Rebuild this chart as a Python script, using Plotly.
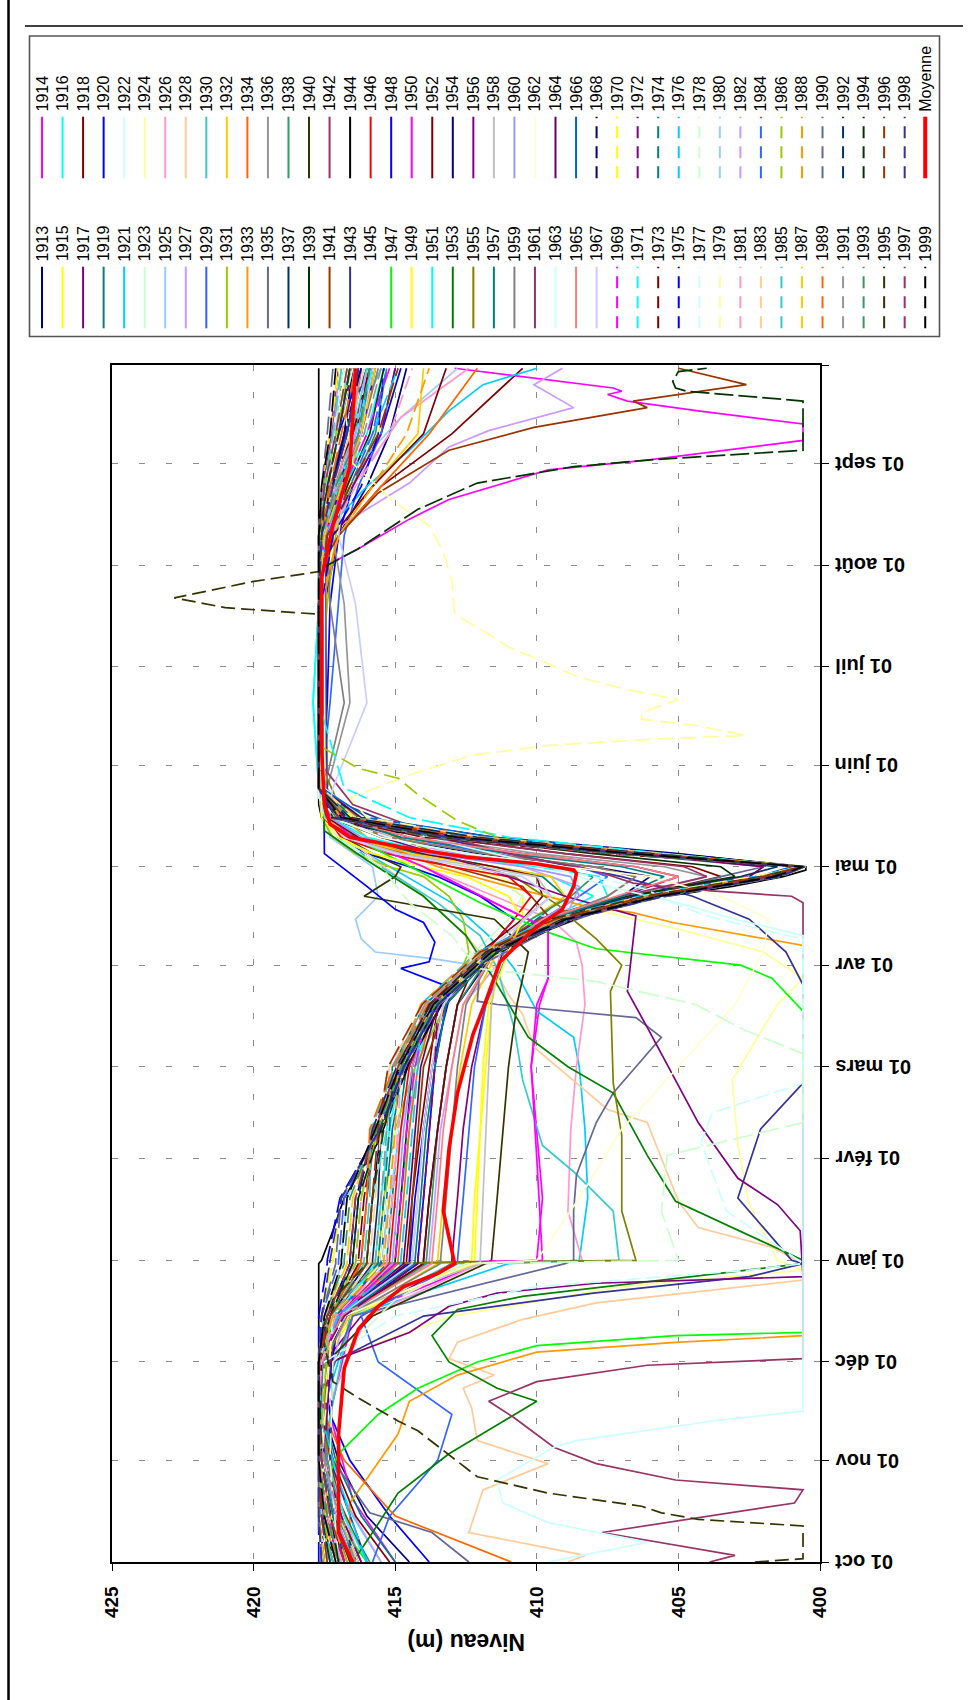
import plotly.graph_objects as go

# ---------------- DATA ----------------
# common sample dates (Oct -> Sep) for the years stored on a grid
GRID = ["10-01", "10-15", "11-01", "11-15", "12-01", "12-15", "12-31", "01-01", "01-20",
        "02-10", "03-01", "03-20", "04-05", "04-15", "04-22", "04-28", "05-01", "05-05",
        "05-10", "05-16", "05-25", "06-20", "07-20", "08-10", "08-25", "09-10", "09-30"]

v1913 = [414.5, 416.0, 417.0, 417.5, 417.6, 416.8, 414.0, 414.0, 413.8, 413.5, 413.2, 412.8, 411.5, 409.3, 407.0, 406.0, 408.0, 412.0, 415.5, 417.3, 417.6, 417.6, 417.5, 417.0, 416.0, 415.2, 414.6]
v1915 = [416.0, 416.8, 417.4, 417.6, 417.5, 416.5, 412.5, 412.3, 412.2, 412.0, 411.8, 411.6, 411.2, 410.5, 410.5, 411.5, 412.5, 414.5, 416.5, 417.4, 417.6, 417.6, 417.6, 417.2, 416.6, 415.6, 414.8]
v1916 = [415.5, 416.5, 417.3, 417.6, 417.6, 417.0, 415.0, 415.0, 414.8, 414.5, 414.3, 413.6, 411.7, 409.6, 408.0, 409.5, 411.5, 414.0, 416.2, 417.3, 417.7, 417.9, 417.7, 417.4, 416.8, 416.0, 415.4]
v1917 = [416.5, 417.2, 417.6, 417.7, 417.5, 416.2, 413.0, 413.0, 412.8, 412.6, 412.3, 411.8, 411.2, 410.0, 407.0, 405.0, 406.5, 410.5, 414.5, 417.0, 417.6, 417.6, 417.6, 417.3, 416.8, 416.3, 415.9]
v1918 = [417.0, 417.4, 417.6, 417.7, 417.6, 416.9, 414.6, 414.6, 414.4, 414.1, 413.8, 413.5, 411.7, 409.7, 406.5, 403.5, 404.5, 409.0, 413.5, 416.8, 417.6, 417.6, 417.6, 417.0, 415.5, 413.0, 410.5]
v1919 = [415.0, 416.2, 417.1, 417.5, 417.6, 417.0, 415.3, 415.3, 415.1, 414.9, 414.6, 413.7, 411.6, 410.0, 409.0, 409.8, 411.5, 414.2, 416.4, 417.4, 417.7, 417.7, 417.7, 417.4, 416.8, 416.2, 415.9]
v1920 = [413.8, 415.2, 416.6, 417.3, 417.5, 416.8, 414.2, 414.2, 414.0, 413.8, 413.6, 413.2, 411.8, 410.8, 412.0, 413.5, 414.5, 416.0, 417.0, 417.5, 417.6, 417.4, 417.3, 417.0, 416.5, 415.5, 414.8]
v1922 = [416.2, 416.9, 417.4, 417.6, 417.6, 416.9, 415.4, 415.4, 415.2, 414.9, 414.7, 413.8, 411.9, 410.5, 409.5, 410.5, 412.5, 415.0, 416.8, 417.5, 417.7, 417.7, 417.7, 417.5, 417.1, 416.6, 416.3]
v1923 = [417.3, 417.6, 417.7, 417.7, 417.6, 417.0, 414.8, 414.8, 414.6, 414.3, 414.0, 413.5, 412.2, 411.0, 410.5, 411.5, 413.5, 415.8, 417.2, 417.6, 417.7, 417.7, 417.7, 417.6, 417.3, 417.0, 416.7]
v1929 = [415.8, 415.2, 413.5, 413.0, 415.6, 416.2, 412.8, 412.8, 412.6, 412.4, 412.2, 411.8, 411.0, 409.8, 408.5, 407.5, 408.5, 411.5, 414.8, 417.1, 417.6, 417.3, 417.0, 416.8, 416.3, 415.5, 415.0]
v1931 = [417.4, 417.6, 417.7, 417.7, 417.6, 417.1, 415.6, 415.6, 415.4, 415.0, 414.3, 413.2, 412.4, 412.6, 413.1, 414.0, 415.2, 416.4, 417.2, 417.6, 417.7, 417.7, 417.4, 417.1, 416.7, 416.2, 416.0]
v1932 = [416.8, 417.3, 417.6, 417.7, 417.6, 416.6, 413.5, 413.5, 413.3, 413.0, 412.7, 412.3, 411.4, 410.2, 409.0, 409.5, 411.5, 414.5, 416.6, 417.4, 417.7, 417.7, 417.7, 417.0, 415.8, 414.2, 414.0]
v1934 = [410.9, 415.0, 416.8, 417.5, 417.6, 417.0, 414.9, 414.9, 414.7, 414.5, 414.2, 413.6, 411.6, 409.6, 407.5, 406.5, 408.0, 411.8, 415.2, 417.2, 417.7, 417.7, 417.6, 417.0, 415.5, 413.8, 412.1]
v1936 = [417.1, 417.5, 417.7, 417.7, 417.6, 416.9, 414.4, 414.4, 414.2, 414.0, 413.7, 413.3, 411.6, 409.6, 406.8, 404.0, 405.5, 410.0, 414.0, 416.8, 417.4, 416.6, 416.8, 417.2, 417.0, 416.5, 416.2]
v1937 = [416.3, 417.0, 417.5, 417.7, 417.7, 417.2, 415.8, 415.8, 415.6, 415.5, 414.7, 413.6, 411.8, 409.6, 406.6, 402.8, 401.5, 406.0, 412.0, 416.3, 417.6, 417.7, 417.7, 417.5, 417.0, 416.4, 415.9]
v1938 = [415.9, 416.8, 417.4, 417.6, 417.6, 416.8, 413.9, 413.9, 413.7, 413.5, 413.2, 412.8, 411.6, 410.2, 408.8, 408.0, 409.5, 412.5, 415.5, 417.2, 417.6, 417.7, 417.7, 417.3, 416.5, 415.7, 415.3]
v1939 = [417.2, 417.6, 417.7, 417.7, 417.6, 417.1, 415.0, 415.0, 414.8, 414.6, 414.4, 413.8, 411.9, 409.8, 406.8, 403.0, 403.5, 408.0, 413.0, 416.7, 417.7, 417.7, 417.7, 417.4, 416.7, 415.9, 415.4]
v1940 = [416.6, 417.2, 417.6, 417.7, 417.4, 415.8, 411.8, 411.6, 411.4, 411.2, 411.0, 410.7, 410.3, 411.5, 416.1, 415.0, 414.8, 415.8, 416.8, 417.4, 417.7, 417.7, 417.7, 417.5, 417.0, 416.2, 415.8]
v1942 = [417.0, 417.4, 417.7, 417.7, 417.7, 417.2, 416.2, 416.2, 416.0, 415.7, 414.9, 413.8, 411.9, 409.9, 407.0, 404.0, 404.8, 409.0, 413.5, 416.9, 417.7, 417.7, 417.7, 417.6, 417.3, 416.8, 416.4]
v1946 = [416.9, 417.4, 417.7, 417.7, 417.6, 417.0, 415.2, 415.2, 415.0, 414.8, 414.5, 413.6, 411.8, 410.8, 410.2, 411.0, 413.0, 415.3, 416.9, 417.5, 417.7, 417.7, 417.7, 417.6, 417.2, 416.7, 416.3]
v1949 = [417.3, 417.6, 417.7, 417.7, 417.6, 416.8, 412.2, 412.2, 412.1, 412.0, 411.9, 411.7, 411.0, 410.5, 411.0, 412.5, 414.0, 415.8, 417.0, 417.6, 417.7, 417.7, 417.7, 417.6, 417.4, 417.0, 416.8]
v1951 = [416.0, 416.8, 417.4, 417.6, 417.6, 417.1, 415.7, 415.7, 415.5, 415.2, 414.8, 413.7, 411.7, 409.5, 407.5, 407.8, 410.0, 413.5, 416.0, 417.3, 417.7, 417.9, 417.7, 417.6, 417.2, 416.5, 416.0]
v1952 = [415.2, 416.4, 417.2, 417.6, 417.6, 416.9, 414.0, 414.0, 413.8, 413.5, 413.2, 412.8, 412.0, 410.5, 409.8, 410.0, 411.5, 414.0, 416.3, 417.4, 417.7, 417.7, 417.7, 417.2, 415.8, 414.0, 413.2]
v1954 = [417.4, 417.6, 417.7, 417.7, 417.7, 417.3, 416.0, 416.0, 415.8, 415.5, 414.6, 413.4, 411.4, 409.0, 405.8, 401.7, 400.8, 405.0, 411.5, 416.2, 417.6, 417.7, 417.7, 417.6, 417.2, 416.8, 416.5]
v1957 = [416.7, 417.2, 417.6, 417.7, 417.6, 416.9, 414.3, 414.3, 414.1, 413.9, 413.6, 413.2, 411.5, 409.6, 407.0, 405.5, 407.0, 411.0, 414.8, 417.0, 417.6, 417.7, 417.7, 417.5, 417.1, 416.6, 416.2]
v1958 = [417.5, 417.7, 417.7, 417.7, 417.6, 417.2, 412.0, 412.0, 411.9, 411.8, 411.7, 411.6, 411.3, 410.5, 409.5, 410.0, 412.0, 414.8, 416.8, 417.5, 417.7, 417.7, 417.7, 417.6, 417.4, 417.1, 416.9]
v1959 = [416.2, 416.9, 417.4, 417.6, 417.5, 416.7, 413.4, 413.4, 413.2, 413.0, 412.8, 412.5, 411.5, 409.5, 407.5, 406.5, 408.0, 411.8, 415.3, 417.2, 417.5, 416.8, 417.3, 417.4, 417.0, 416.2, 415.6]
v1960 = [416.5, 417.1, 417.5, 417.7, 417.6, 417.0, 415.1, 415.1, 414.9, 414.7, 414.4, 413.7, 411.6, 409.8, 408.5, 408.8, 410.5, 413.8, 416.2, 417.3, 417.7, 417.7, 417.7, 417.4, 416.9, 416.3, 415.9]
v1962 = [417.4, 417.6, 417.7, 417.7, 417.6, 416.8, 412.3, 410.0, 408.5, 407.0, 405.0, 403.0, 402.0, 401.8, 403.5, 406.0, 409.0, 412.5, 415.5, 417.2, 417.7, 417.7, 417.7, 417.6, 417.3, 417.0, 416.8]
v1964 = [416.8, 417.3, 417.6, 417.7, 417.6, 417.0, 414.7, 414.7, 414.5, 414.3, 414.1, 413.5, 411.7, 409.5, 406.4, 402.5, 402.0, 406.5, 412.0, 416.2, 417.6, 417.7, 417.7, 417.5, 416.9, 416.2, 415.7]
v1965 = [417.1, 417.5, 417.7, 417.7, 417.6, 416.9, 413.7, 413.7, 413.5, 413.3, 413.0, 412.6, 411.5, 409.8, 407.2, 405.0, 406.5, 410.5, 414.5, 417.0, 417.7, 417.7, 417.7, 417.5, 417.1, 416.6, 416.2]
v1966 = [416.4, 417.0, 417.5, 417.7, 417.6, 417.1, 415.5, 415.5, 415.3, 415.1, 414.7, 413.5, 411.4, 409.2, 405.9, 402.2, 401.0, 405.5, 411.5, 416.0, 417.6, 417.7, 417.7, 417.6, 417.2, 416.7, 416.3]
v1967 = [416.9, 417.3, 417.6, 417.7, 417.6, 417.0, 414.4, 414.4, 414.2, 414.0, 413.7, 413.3, 411.8, 410.4, 409.5, 410.5, 412.5, 415.0, 416.8, 417.4, 417.2, 416.0, 416.4, 417.0, 416.8, 416.2, 415.8]
v1968 = [417.5, 417.7, 417.7, 417.7, 417.7, 417.4, 416.6, 416.6, 416.4, 415.6, 414.8, 413.6, 411.5, 408.9, 405.7, 401.6, 400.6, 406.5, 412.8, 417.0, 417.7, 417.7, 417.7, 417.6, 417.2, 416.8, 416.2]
v1969 = [416.8, 417.4, 417.7, 417.7, 417.6, 417.0, 415.0, 415.0, 414.8, 414.6, 414.3, 413.8, 411.8, 409.2, 406.0, 401.9, 400.6, 407.0, 413.5, 417.2, 417.7, 417.7, 417.7, 417.5, 416.8, 416.0, 415.2]
v1970 = [417.6, 417.7, 417.7, 417.7, 417.7, 417.6, 417.2, 417.2, 416.9, 415.5, 414.65, 413.45, 411.4, 408.75, 405.5, 401.4, 400.5, 405.5, 412.0, 416.5, 417.6, 417.7, 417.7, 417.7, 417.6, 417.3, 417.0]
v1971 = [417.0, 417.5, 417.7, 417.7, 417.6, 417.2, 416.0, 416.0, 415.8, 415.3, 415.0, 414.0, 412.0, 409.4, 406.3, 402.2, 400.7, 405.5, 411.0, 414.5, 416.8, 417.7, 417.7, 417.6, 417.0, 416.4, 415.8]
v1972 = [416.2, 416.9, 417.5, 417.7, 417.7, 416.8, 414.2, 414.2, 414.0, 413.8, 413.6, 413.5, 411.8, 409.1, 405.9, 401.8, 400.6, 406.0, 412.5, 416.8, 417.7, 417.7, 417.7, 417.4, 416.5, 415.5, 415.0]
v1973 = [417.3, 417.6, 417.7, 417.7, 417.6, 417.3, 416.3, 416.3, 416.1, 415.7, 414.85, 413.65, 411.6, 409.0, 405.8, 401.7, 400.6, 407.5, 414.0, 417.3, 417.7, 417.7, 417.7, 417.6, 417.3, 416.5, 415.9]
v1974 = [416.5, 417.2, 417.6, 417.7, 417.7, 417.5, 415.6, 415.6, 415.4, 415.2, 415.1, 413.95, 411.9, 409.3, 406.1, 402.0, 400.7, 406.0, 412.0, 416.5, 417.6, 417.7, 417.7, 417.7, 417.5, 417.0, 416.6]
v1975 = [417.7, 417.7, 417.7, 417.7, 417.7, 417.7, 417.4, 417.4, 416.95, 415.55, 414.7, 413.5, 411.45, 408.8, 405.6, 401.5, 400.55, 406.8, 413.2, 417.1, 417.7, 417.7, 417.6, 417.2, 416.2, 415.6, 415.4]
v1976 = [416.0, 416.6, 417.2, 417.6, 417.7, 417.0, 414.8, 414.8, 414.6, 414.4, 414.2, 414.1, 412.1, 409.5, 406.4, 402.3, 400.7, 405.8, 412.2, 416.6, 417.7, 417.7, 417.7, 417.5, 416.8, 415.8, 414.9]
v1980 = [417.4, 417.6, 417.7, 417.7, 417.7, 417.4, 416.9, 416.9, 416.7, 415.65, 414.8, 413.6, 411.55, 408.9, 405.7, 401.6, 400.6, 406.2, 412.6, 416.9, 417.7, 417.7, 417.7, 417.7, 417.4, 417.0, 416.7]
v1981 = [416.9, 417.4, 417.7, 417.7, 417.6, 417.1, 415.3, 415.3, 415.1, 414.9, 414.8, 413.9, 411.85, 409.2, 406.0, 401.9, 400.65, 407.2, 413.6, 417.2, 417.7, 417.7, 417.7, 417.3, 416.4, 415.2, 414.4]
v1982 = [417.1, 417.5, 417.7, 417.7, 417.7, 417.5, 416.4, 416.4, 416.2, 415.75, 414.9, 413.7, 411.65, 409.0, 405.8, 401.7, 400.6, 406.4, 412.9, 416.9, 417.7, 417.7, 417.7, 417.6, 417.1, 416.4, 416.0]
v1983 = [416.3, 417.0, 417.5, 417.7, 417.7, 417.2, 415.9, 415.9, 415.7, 415.5, 415.2, 414.0, 411.95, 409.3, 406.1, 402.0, 400.7, 405.7, 411.9, 416.4, 417.6, 417.7, 417.7, 417.6, 417.2, 416.6, 416.1]
v1984 = [417.6, 417.7, 417.7, 417.7, 417.7, 417.6, 417.0, 417.0, 416.8, 415.6, 414.75, 413.55, 411.5, 408.85, 405.6, 401.5, 400.55, 406.9, 413.3, 417.0, 417.7, 417.7, 417.7, 417.4, 416.6, 415.8, 415.3]
v1985 = [417.2, 417.6, 417.7, 417.7, 417.7, 417.3, 416.1, 416.1, 415.9, 415.85, 415.0, 413.8, 411.75, 409.1, 405.9, 401.8, 400.6, 406.1, 412.4, 416.7, 417.7, 417.7, 417.7, 417.7, 417.5, 417.2, 416.9]
v1987 = [417.5, 417.7, 417.7, 417.7, 417.7, 417.5, 416.7, 416.7, 416.5, 415.7, 414.85, 413.65, 411.6, 408.95, 405.7, 401.6, 400.6, 406.6, 413.0, 417.0, 417.7, 417.7, 417.7, 417.5, 416.9, 416.2, 415.7]
v1988 = [416.7, 417.3, 417.6, 417.7, 417.7, 417.2, 415.4, 415.4, 415.2, 415.0, 414.9, 414.1, 412.05, 409.4, 406.2, 402.1, 400.7, 406.3, 412.7, 416.9, 417.7, 417.7, 417.6, 417.0, 415.8, 414.6, 413.8]
v1989 = [417.0, 417.5, 417.7, 417.7, 417.7, 417.4, 416.2, 416.2, 416.0, 415.9, 415.05, 413.85, 411.8, 409.15, 405.9, 401.8, 400.6, 405.9, 412.3, 416.6, 417.7, 417.7, 417.7, 417.6, 417.3, 416.9, 416.4]
v1990 = [417.6, 417.7, 417.7, 417.7, 417.7, 417.6, 417.1, 417.1, 416.9, 415.5, 414.65, 413.45, 411.4, 408.75, 405.5, 401.4, 400.5, 407.3, 413.7, 417.3, 417.7, 417.7, 417.7, 417.7, 417.6, 417.4, 417.2]
v1991 = [416.4, 417.0, 417.5, 417.7, 417.7, 417.3, 415.7, 415.7, 415.5, 415.3, 415.1, 413.95, 411.9, 409.25, 406.0, 401.9, 400.65, 406.7, 413.1, 417.0, 417.7, 417.7, 417.7, 417.6, 417.0, 416.1, 415.5]
v1992 = [417.3, 417.6, 417.7, 417.7, 417.7, 417.4, 416.5, 416.5, 416.3, 415.8, 414.95, 413.75, 411.7, 409.05, 405.8, 401.7, 400.6, 406.0, 412.1, 416.6, 417.7, 417.7, 417.7, 417.7, 417.4, 417.0, 416.6]
v1993 = [417.0, 417.4, 417.7, 417.7, 417.7, 417.5, 416.8, 416.8, 416.6, 415.65, 414.8, 413.6, 411.55, 408.9, 405.65, 401.55, 400.55, 407.0, 413.4, 417.1, 417.7, 417.7, 417.7, 417.6, 417.1, 416.3, 415.9]
v1996 = [417.4, 417.6, 417.7, 417.7, 417.7, 417.3, 416.0, 416.0, 415.8, 415.6, 415.25, 414.05, 412.0, 409.35, 406.1, 402.0, 400.7, 406.3, 412.6, 416.8, 417.7, 417.7, 417.7, 417.4, 416.6, 415.6, 414.9]
v1997 = [416.8, 417.3, 417.6, 417.7, 417.7, 417.4, 416.6, 416.6, 416.4, 415.75, 414.9, 413.7, 411.65, 409.0, 405.75, 401.65, 400.6, 406.5, 412.9, 417.0, 417.7, 417.7, 417.7, 417.7, 417.5, 417.1, 416.7]
v1998 = [417.6, 417.7, 417.7, 417.7, 417.7, 417.6, 417.3, 417.3, 416.9, 415.55, 414.7, 413.5, 411.45, 408.8, 405.55, 401.45, 400.55, 406.8, 413.2, 417.1, 417.7, 417.7, 417.7, 417.6, 417.2, 416.7, 416.3]
v1999 = [417.1, 417.5, 417.7, 417.7, 417.7, 417.5, 416.9, 416.9, 416.7, 415.7, 414.85, 413.65, 411.6, 408.95, 405.7, 401.6, 400.6, 406.6, 412.8, 416.9, 417.7, 417.7, 417.7, 417.7, 417.6, 417.3, 417.1]

# years read individually: (date, level) pairs
p1914 = [("10-01", 415.0), ("10-20", 416.5), ("11-15", 417.3), ("12-15", 416.5), ("12-31", 412.0), ("01-01", 410.0), ("01-20", 409.8), ("02-10", 410.0), ("03-01", 410.2), ("03-20", 409.9), ("03-28", 409.6), ("04-12", 409.6), ("04-20", 411.5), ("05-01", 414.0), ("05-10", 416.5), ("05-18", 417.6), ("07-31", 417.6), ("08-06", 416.3), ("08-15", 414.5), ("08-21", 413.1), ("08-30", 409.6), ("09-02", 406.1), ("09-08", 400.6), ("09-13", 400.6), ("09-17", 404.3), ("09-20", 406.8), ("09-22", 407.5), ("09-23", 407.0), ("09-24", 407.3), ("09-30", 412.9)]
p1921 = [("10-01", 416.5), ("10-20", 417.3), ("11-15", 417.6), ("12-15", 416.5), ("12-31", 411.0), ("01-01", 408.5), ("01-20", 408.2), ("02-10", 408.3), ("03-01", 408.5), ("03-10", 408.7), ("03-18", 410.0), ("03-31", 410.8), ("04-10", 411.7), ("04-20", 413.0), ("05-05", 416.0), ("05-15", 417.5), ("08-10", 417.6), ("08-25", 416.0), ("09-05", 414.5), ("09-17", 413.1), ("09-25", 411.9), ("09-30", 410.0)]
p1924 = [("10-01", 417.2), ("11-01", 417.6), ("12-01", 417.4), ("12-15", 413.0), ("12-24", 407.0), ("12-29", 400.6), ("01-01", 401.5), ("01-18", 402.5), ("02-05", 402.9), ("02-25", 403.1), ("03-10", 402.2), ("03-20", 401.5), ("03-28", 400.6), ("04-05", 402.0), ("04-12", 405.0), ("04-18", 408.0), ("04-25", 410.5), ("05-05", 413.5), ("05-15", 416.5), ("05-25", 417.6), ("08-20", 417.5), ("09-30", 417.0)]
p1925 = [("10-01", 417.0), ("11-01", 417.6), ("12-15", 417.2), ("12-31", 415.5), ("01-20", 415.2), ("02-10", 414.8), ("03-01", 414.3), ("03-20", 413.2), ("04-01", 412.2), ("04-03", 413.7), ("04-05", 415.7), ("04-09", 416.2), ("04-15", 416.4), ("04-22", 415.6), ("05-01", 415.8), ("05-10", 417.3), ("05-20", 417.6), ("08-20", 417.5), ("09-15", 414.8), ("09-30", 412.8)]
p1926 = [("10-01", 416.2), ("10-20", 417.0), ("11-15", 417.5), ("12-15", 416.0), ("12-31", 412.0), ("01-01", 408.4), ("01-16", 408.9), ("02-10", 408.8), ("03-01", 408.6), ("03-20", 408.3), ("04-01", 408.4), ("04-08", 408.6), ("04-15", 409.5), ("04-22", 411.5), ("05-01", 414.0), ("05-10", 416.5), ("05-20", 417.6), ("08-10", 417.5), ("08-25", 416.5), ("09-15", 414.8), ("09-30", 412.4)]
p1927 = [("10-01", 415.5), ("10-20", 416.8), ("11-15", 417.6), ("12-15", 416.8), ("12-31", 413.8), ("01-01", 413.8), ("01-20", 413.6), ("02-10", 413.4), ("03-01", 413.0), ("03-20", 412.6), ("04-05", 411.0), ("04-15", 409.0), ("04-25", 408.5), ("05-01", 410.5), ("05-08", 414.5), ("05-16", 417.0), ("05-25", 417.6), ("08-10", 417.5), ("08-26", 414.5), ("09-06", 413.1), ("09-11", 411.7), ("09-18", 408.7), ("09-25", 410.1), ("09-30", 409.1)]
p1928 = [("10-01", 408.9), ("10-03", 408.3), ("10-10", 412.4), ("10-23", 411.9), ("10-31", 409.6), ("11-07", 412.1), ("11-17", 412.3), ("11-23", 412.6), ("11-27", 411.5), ("12-02", 413.1), ("12-07", 412.8), ("12-14", 410.5), ("12-19", 407.9), ("12-26", 400.6), ("12-31", 400.6), ("01-05", 401.7), ("01-11", 404.3), ("01-19", 405.0), ("02-12", 406.1), ("02-16", 407.5), ("03-07", 410.1), ("03-17", 410.5), ("03-23", 411.0), ("03-31", 411.5), ("04-10", 412.5), ("04-22", 414.0), ("05-05", 416.0), ("05-15", 417.5), ("08-20", 417.5), ("09-30", 416.5)]
p1930 = [("10-01", 416.8), ("11-01", 417.6), ("12-15", 416.6), ("12-31", 413.0), ("01-01", 407.1), ("01-16", 407.3), ("01-28", 408.7), ("02-05", 409.8), ("02-25", 410.5), ("03-13", 410.8), ("03-31", 411.4), ("04-10", 412.0), ("04-20", 413.5), ("05-01", 415.5), ("05-10", 417.0), ("05-18", 417.6), ("08-15", 417.6), ("09-10", 416.5), ("09-30", 415.5)]
p1933 = [("10-01", 416.6), ("10-19", 416.6), ("11-09", 414.9), ("11-19", 414.5), ("11-27", 412.8), ("12-04", 410.0), ("12-07", 405.1), ("12-09", 400.6), ("04-07", 400.6), ("04-10", 402.6), ("04-14", 405.2), ("04-17", 406.6), ("04-19", 408.3), ("04-25", 411.0), ("05-01", 413.5), ("05-10", 416.0), ("05-20", 417.5), ("08-20", 417.4), ("09-10", 416.5), ("09-30", 415.8)]
p1935 = [("10-01", 412.4), ("10-10", 413.7), ("10-16", 415.9), ("11-01", 417.2), ("11-20", 417.6), ("12-15", 416.5), ("12-31", 409.0), ("01-01", 408.7), ("01-16", 408.7), ("01-27", 408.6), ("02-12", 407.9), ("02-21", 407.3), ("03-01", 406.5), ("03-10", 405.6), ("03-16", 406.5), ("03-20", 411.4), ("03-21", 412.1), ("04-01", 412.0), ("04-12", 409.5), ("04-20", 407.0), ("04-28", 403.5), ("05-01", 402.0), ("05-05", 407.0), ("05-10", 413.0), ("05-16", 416.8), ("05-25", 417.6), ("08-20", 417.6), ("09-30", 416.0)]
p1941 = [("10-01", 416.0), ("10-20", 417.0), ("11-15", 417.6), ("12-15", 417.0), ("12-31", 414.5), ("01-01", 414.5), ("01-20", 414.4), ("02-10", 414.2), ("03-01", 414.0), ("03-20", 413.2), ("04-05", 411.5), ("04-15", 409.5), ("04-25", 410.5), ("05-01", 413.0), ("05-08", 416.0), ("05-15", 417.5), ("08-01", 417.6), ("08-10", 417.0), ("08-23", 415.6), ("09-05", 413.1), ("09-12", 410.1), ("09-18", 406.1), ("09-20", 406.6), ("09-25", 402.6), ("09-30", 405.0)]
p1943 = [("10-01", 416.0), ("11-01", 417.3), ("12-01", 417.2), ("12-15", 414.0), ("12-22", 408.0), ("12-27", 402.5), ("12-31", 400.6), ("01-01", 401.0), ("01-20", 402.9), ("02-10", 402.1), ("02-24", 400.6), ("03-26", 400.6), ("04-05", 401.2), ("04-15", 402.5), ("04-22", 404.5), ("04-28", 407.0), ("05-05", 411.0), ("05-12", 414.5), ("05-22", 417.4), ("08-20", 417.5), ("09-30", 416.0)]
p1944 = [("10-01", 416.9), ("10-10", 417.7), ("12-31", 417.7), ("01-01", 417.6), ("01-10", 417.2), ("01-20", 416.8), ("02-06", 415.6), ("03-02", 414.5), ("03-24", 413.1), ("04-02", 412.1), ("04-07", 410.8), ("04-12", 409.5), ("04-18", 407.8), ("04-22", 405.4), ("04-25", 403.1), ("04-28", 401.3), ("04-30", 400.5), ("05-01", 400.5), ("05-04", 404.0), ("05-08", 410.5), ("05-12", 415.5), ("05-16", 417.6), ("05-20", 417.7), ("09-30", 417.7)]
p1947 = [("10-01", 416.0), ("10-21", 417.7), ("11-03", 417.0), ("11-15", 415.6), ("11-23", 414.2), ("12-01", 412.1), ("12-06", 410.0), ("12-09", 405.1), ("12-10", 400.6), ("03-18", 400.6), ("03-28", 401.7), ("04-01", 402.8), ("04-06", 407.9), ("04-11", 409.6), ("04-20", 412.0), ("05-01", 414.5), ("05-10", 416.5), ("05-20", 417.6), ("08-20", 417.6), ("09-30", 416.8)]
p1948 = [("10-01", 417.4), ("11-01", 417.7), ("12-15", 417.0), ("12-31", 414.5), ("01-20", 414.3), ("02-10", 414.0), ("03-01", 413.7), ("03-25", 413.0), ("03-31", 414.8), ("04-02", 413.8), ("04-08", 413.6), ("04-14", 414.0), ("04-18", 415.0), ("04-25", 416.0), ("05-05", 417.5), ("08-15", 417.6), ("09-10", 417.0), ("09-30", 416.2)]
p1950 = [("10-01", 417.0), ("11-01", 417.6), ("12-01", 417.5), ("12-15", 417.0), ("12-31", 415.5), ("01-01", 409.8), ("02-01", 410.0), ("03-01", 410.2), ("03-20", 410.0), ("03-28", 409.6), ("04-12", 409.6), ("04-20", 411.5), ("05-01", 414.0), ("05-10", 416.5), ("05-18", 417.6), ("08-20", 417.6), ("09-30", 416.9)]
p1953 = [("10-01", 416.5), ("10-10", 415.8), ("10-22", 414.9), ("11-03", 413.1), ("11-19", 410.0), ("11-23", 411.4), ("12-01", 413.1), ("12-09", 413.7), ("12-17", 412.8), ("12-21", 410.5), ("12-31", 400.6), ("01-01", 400.6), ("01-19", 405.1), ("02-02", 406.1), ("02-21", 407.3), ("03-01", 408.9), ("03-10", 410.3), ("03-29", 411.6), ("04-10", 412.5), ("04-22", 414.0), ("05-03", 416.0), ("05-12", 417.5), ("08-20", 417.6), ("09-30", 416.5)]
p1955 = [("10-01", 416.5), ("11-01", 417.4), ("12-01", 417.5), ("12-15", 417.0), ("12-31", 416.3), ("01-01", 406.5), ("01-16", 407.0), ("02-08", 407.0), ("02-24", 407.3), ("03-24", 407.4), ("04-01", 407.0), ("04-09", 407.9), ("04-14", 408.6), ("04-19", 409.2), ("04-28", 410.8), ("05-05", 413.5), ("05-12", 415.5), ("05-20", 417.0), ("06-01", 417.6), ("08-20", 417.6), ("09-30", 416.8)]
p1956 = [("10-01", 416.8), ("11-01", 417.5), ("12-01", 417.3), ("12-10", 414.5), ("12-18", 413.1), ("12-22", 411.4), ("12-25", 407.9), ("12-27", 400.6), ("01-10", 400.7), ("01-18", 401.5), ("01-26", 402.9), ("02-12", 404.3), ("03-13", 406.1), ("03-24", 406.8), ("04-16", 406.5), ("04-22", 409.0), ("05-01", 412.0), ("05-10", 415.5), ("05-20", 417.5), ("08-20", 417.6), ("09-30", 416.5)]
p1961 = [("10-01", 403.9), ("10-03", 403.0), ("10-10", 407.7), ("10-19", 400.9), ("10-23", 400.6), ("10-26", 405.1), ("10-31", 407.9), ("11-05", 409.4), ("11-14", 410.8), ("11-19", 411.7), ("11-25", 410.0), ("11-30", 406.1), ("12-02", 400.6), ("04-20", 400.6), ("04-22", 401.0), ("04-24", 404.5), ("04-26", 406.6), ("04-30", 408.0), ("05-05", 411.0), ("05-12", 414.0), ("05-20", 416.5), ("06-01", 417.6), ("08-20", 417.6), ("09-30", 417.0)]
p1963 = [("10-01", 409.6), ("10-07", 406.1), ("10-13", 409.6), ("10-19", 411.2), ("10-26", 411.4), ("11-05", 409.4), ("11-07", 408.6), ("11-13", 403.8), ("11-16", 400.6), ("04-10", 400.6), ("04-15", 403.0), ("04-20", 405.0), ("04-25", 407.5), ("05-01", 409.5), ("05-08", 413.0), ("05-15", 416.0), ("05-25", 417.5), ("08-20", 417.5), ("09-30", 416.9)]
p1977 = [("10-01", 417.0), ("11-01", 417.6), ("12-01", 417.5), ("12-15", 415.0), ("12-24", 410.0), ("12-29", 402.5), ("12-31", 400.6), ("01-16", 403.3), ("02-06", 404.2), ("02-15", 403.8), ("02-24", 400.6), ("04-09", 400.6), ("04-13", 402.6), ("04-16", 404.0), ("04-20", 405.2), ("04-24", 406.1), ("04-28", 408.0), ("05-03", 411.0), ("05-08", 414.5), ("05-15", 417.0), ("05-22", 417.7), ("08-20", 417.6), ("09-30", 416.8)]
p1978 = [("10-01", 417.0), ("11-01", 417.3), ("12-01", 417.2), ("12-20", 415.0), ("12-31", 412.5), ("01-01", 405.0), ("01-16", 405.6), ("02-02", 405.4), ("02-12", 400.6), ("03-05", 400.6), ("03-12", 402.6), ("03-20", 404.4), ("03-27", 407.9), ("03-31", 412.1), ("04-10", 413.0), ("04-20", 414.5), ("05-01", 415.5), ("05-10", 417.0), ("05-18", 417.6), ("08-20", 417.6), ("09-30", 416.5)]
p1979 = [("10-01", 417.0), ("11-01", 417.6), ("12-15", 417.2), ("12-31", 415.5), ("01-01", 415.5), ("01-20", 415.3), ("02-10", 415.0), ("03-01", 414.7), ("03-20", 413.7), ("04-05", 411.7), ("04-15", 409.4), ("04-22", 406.3), ("04-28", 402.4), ("05-01", 400.6), ("05-05", 406.0), ("05-10", 412.0), ("05-16", 416.0), ("05-22", 416.6), ("05-29", 414.5), ("06-04", 412.3), ("06-07", 409.6), ("06-09", 405.7), ("06-10", 402.6), ("06-13", 404.3), ("06-15", 406.3), ("06-17", 406.3), ("06-21", 405.0), ("06-24", 406.8), ("06-28", 408.6), ("07-02", 409.6), ("07-07", 411.0), ("07-12", 411.9), ("07-17", 412.9), ("07-27", 413.0), ("08-05", 413.3), ("08-13", 413.8), ("08-20", 415.0), ("09-01", 416.5), ("09-30", 417.0)]
p1986 = [("10-01", 417.3), ("11-01", 417.7), ("12-15", 417.3), ("12-31", 416.4), ("01-20", 416.2), ("02-10", 415.6), ("03-01", 414.8), ("03-20", 413.6), ("04-05", 411.5), ("04-15", 409.2), ("04-22", 405.9), ("04-28", 401.9), ("05-01", 400.6), ("05-05", 406.0), ("05-07", 409.6), ("05-10", 411.4), ("05-15", 412.8), ("05-23", 414.2), ("05-28", 414.9), ("05-31", 416.3), ("06-07", 417.7), ("08-20", 417.6), ("09-30", 416.6)]
p1994 = [("10-01", 417.0), ("11-01", 417.6), ("12-01", 417.7), ("12-15", 417.3), ("12-31", 416.5), ("01-01", 416.5), ("01-20", 416.3), ("02-10", 415.5), ("03-01", 414.7), ("03-20", 413.5), ("04-05", 411.4), ("04-15", 409.1), ("04-22", 405.8), ("04-28", 401.7), ("05-01", 400.6), ("05-05", 406.5), ("05-10", 413.0), ("05-16", 417.0), ("05-25", 417.7), ("07-31", 417.6), ("08-06", 416.3), ("08-18", 414.2), ("08-26", 412.1), ("08-31", 408.7), ("09-02", 406.1), ("09-05", 400.6), ("09-20", 400.6), ("09-23", 404.7), ("09-24", 405.1), ("09-26", 405.2), ("09-29", 405.0), ("09-30", 404.0)]
p1995 = [("10-01", 402.3), ("10-02", 400.6), ("10-12", 400.6), ("10-14", 404.3), ("10-16", 405.6), ("10-18", 406.3), ("10-22", 409.6), ("10-27", 412.1), ("11-10", 414.2), ("11-13", 414.9), ("11-20", 416.3), ("11-25", 417.2), ("12-10", 417.6), ("12-20", 417.2), ("12-31", 416.0), ("01-01", 416.0), ("01-20", 415.8), ("02-10", 415.4), ("03-01", 414.9), ("03-20", 413.8), ("04-05", 411.8), ("04-15", 409.5), ("04-22", 406.2), ("04-28", 402.1), ("05-01", 400.6), ("05-05", 407.0), ("05-10", 413.5), ("05-16", 417.2), ("05-25", 417.7), ("07-17", 417.7), ("07-19", 421.0), ("07-22", 422.8), ("07-27", 420.0), ("07-30", 417.7), ("08-20", 417.5), ("09-10", 417.0), ("09-30", 416.6)]

MOYENNE = [("10-01", 416.5), ("10-10", 417.0), ("11-09", 417.0), ("11-19", 416.9), ("11-29", 416.8), ("12-11", 416.3), ("12-18", 415.6), ("12-24", 414.7), ("12-28", 413.5), ("12-31", 412.9), ("01-16", 413.3), ("02-04", 413.1), ("02-21", 412.8), ("03-11", 412.25), ("03-21", 411.8), ("04-02", 411.3), ("04-12", 410.1), ("04-18", 409.1), ("04-25", 408.7), ("04-29", 408.6), ("04-30", 408.7), ("05-02", 410.1), ("05-04", 412.5), ("05-07", 414.8), ("05-10", 416.6), ("05-14", 417.3), ("05-20", 417.5), ("06-06", 417.6), ("07-28", 417.6), ("08-13", 417.2), ("08-31", 416.6), ("09-30", 416.4)]

YEARS = [y for y in range(1913, 2000)]
LEVEL_TICKS = [400, 405, 410, 415, 420, 425]
MONTH_TICKS = ["10-01", "11-01", "12-01", "01-01", "02-01", "03-01", "04-01", "05-01", "06-01", "07-01", "08-01", "09-01"]
MONTH_LABELS = ["01 oct", "01 nov", "01 déc", "01 janv", "01 févr", "01 mars", "01 avr", "01 mai", "01 juin", "01 juil", "01 août", "01 sept"]

# Excel default line palette
PAL_A = ["#000080", "#FF00FF", "#FFFF00", "#00FFFF", "#800080", "#800000", "#008080", "#0000FF"]
PAL_B = ["#00CCFF", "#CCFFFF", "#CCFFCC", "#FFFF99", "#99CCFF", "#FF99CC", "#CC99FF", "#FFCC99",
         "#3366FF", "#33CCCC", "#99CC00", "#FFCC00", "#FF9900", "#FF6600", "#666699", "#969696",
         "#003366", "#339966", "#003300", "#333300", "#993300", "#993366", "#333399", "#000000"]
PAL_C = ["#FF0000", "#00FF00", "#0000FF", "#FFFF00", "#FF00FF", "#00FFFF", "#800000", "#008000",
         "#000080", "#808000", "#800080", "#008080", "#C0C0C0", "#808080", "#9999FF", "#993366",
         "#FFFFCC", "#CCFFFF", "#660066", "#FF8080", "#0066CC", "#CCCCFF"]

# ---------------- BUILD ----------------
def full_date(md):
    return ("2001-" if int(md[:2]) >= 10 else "2002-") + md

colors = {}
for i, y in enumerate(range(1913, 1945)):
    colors[y] = (PAL_A + PAL_B)[i]
colors[1945] = "#FFFFFF"
for i, y in enumerate(range(1946, 1968)):
    colors[y] = PAL_C[i]
for i, y in enumerate(range(1968, 2000)):
    colors[y] = (PAL_A + PAL_B)[i]

g = globals()
series = {}
for y in YEARS:
    if f"p{y}" in g:
        series[y] = g[f"p{y}"]
    elif f"v{y}" in g:
        series[y] = list(zip(GRID, g[f"v{y}"]))

# slightly different dash rhythms so overlapping dashed years do not line up their gaps
PLOT_DASHES = ["18px,6px", "15px,5px", "21px,6px", "16px,7px", "19px,5px", "14px,6px", "20px,7px"]
LEG_DASH = "12px,8px"

fig = go.Figure()
for k, y in enumerate(YEARS):
    if y not in series:
        continue
    pts = series[y]
    fig.add_trace(go.Scatter(
        x=[v for _, v in pts], y=[full_date(d) for d, _ in pts], mode="lines",
        line=dict(color=colors[y], width=1.7,
                  dash=(PLOT_DASHES[k % len(PLOT_DASHES)] if y >= 1968 else "solid")),
        hoverinfo="skip", name=str(y)))
fig.add_trace(go.Scatter(
    x=[v for _, v in MOYENNE], y=[full_date(d) for d, _ in MOYENNE], mode="lines",
    line=dict(color="#FF0000", width=3.6), hoverinfo="skip", name="Moyenne"))

FONT = "Liberation Sans, Arial, sans-serif"
L, R, T, B = 112, 820, 365, 1562
W, H = R - L, B - T

def xp(px):
    return (px - L) / W

def yp(py):
    return (B - py) / H

shapes = []
annotations = []

# outer frame pieces
shapes.append(dict(type="line", xref="paper", yref="paper", x0=xp(8.5), x1=xp(8.5), y0=yp(0), y1=yp(1700),
                   line=dict(color="black", width=2.5)))
shapes.append(dict(type="line", xref="paper", yref="paper", x0=xp(25), x1=xp(963), y0=yp(26), y1=yp(26),
                   line=dict(color="black", width=1.3)))
# legend box
shapes.append(dict(type="rect", xref="paper", yref="paper", x0=xp(29.5), x1=xp(939.5), y0=yp(36), y1=yp(336.5),
                   line=dict(color="#555555", width=1.6), fillcolor="white", layer="below"))

for i in range(44):
    cx = 42 + 20.54 * i
    # top row: even years + Moyenne
    if i < 43:
        yr = 1914 + 2 * i
        label, col, w = str(yr), colors[yr], 2
        dash = LEG_DASH if yr >= 1968 else "solid"
    else:
        label, col, w, dash = "Moyenne", "#FF0000", 4, "solid"
    shapes.append(dict(type="line", xref="paper", yref="paper", x0=xp(cx), x1=xp(cx),
                       y0=yp(178.3), y1=yp(116.7), line=dict(color=col, width=w, dash=dash)))
    annotations.append(dict(text=label, xref="paper", yref="paper", x=xp(cx), y=yp(112.5),
                            xanchor="center", yanchor="bottom", textangle=-90, showarrow=False,
                            font=dict(family=FONT, size=16, color="black"), borderpad=0))
    # bottom row: odd years
    yr = 1913 + 2 * i
    dash = LEG_DASH if yr >= 1968 else "solid"
    shapes.append(dict(type="line", xref="paper", yref="paper", x0=xp(cx), x1=xp(cx),
                       y0=yp(328.3), y1=yp(266.7), line=dict(color=colors[yr], width=2, dash=dash)))
    annotations.append(dict(text=str(yr), xref="paper", yref="paper", x=xp(cx), y=yp(262.5),
                            xanchor="center", yanchor="bottom", textangle=-90, showarrow=False,
                            font=dict(family=FONT, size=16, color="black"), borderpad=0))

# date labels on the right (upside-down, like the rotated original)
for md, lab in zip(MONTH_TICKS, MONTH_LABELS):
    annotations.append(dict(text=f"<b>{lab}</b>", xref="paper", yref="y", x=xp(834), y=full_date(md),
                            xanchor="left", yanchor="middle", textangle=180, showarrow=False,
                            font=dict(family=FONT, size=20, color="black"), borderpad=0))

# axis title (upside down)
annotations.append(dict(text="<b>Niveau (m)</b>", xref="paper", yref="paper", x=xp(466), y=yp(1642),
                        xanchor="center", yanchor="middle", textangle=180, showarrow=False,
                        font=dict(family=FONT, size=23, color="black")))

fig.update_layout(
    width=968, height=1700,
    margin=dict(l=L, r=968 - R, t=T, b=1700 - B, pad=0),
    paper_bgcolor="white", plot_bgcolor="white",
    showlegend=False,
    font=dict(family=FONT, color="black"),
    shapes=shapes, annotations=annotations,
)
fig.update_xaxes(
    range=[425, 400], tickvals=LEVEL_TICKS, ticktext=[str(v) for v in LEVEL_TICKS],
    tickangle=-90, tickfont=dict(family=FONT, size=19, color="black", weight="bold"),
    ticks="outside", ticklen=7, tickcolor="black", tickwidth=1.3, ticklabelstandoff=8,
    showgrid=True, gridcolor="#8c8c8c", griddash="6px,21px", gridwidth=1,
    showline=True, linecolor="black", linewidth=1.5, mirror=True, zeroline=False,
)
fig.update_yaxes(
    type="date", range=["2001-10-01", "2002-10-01"], side="right",
    tickvals=[full_date(m) for m in MONTH_TICKS] + ["2002-10-01"], showticklabels=False,
    ticks="outside", ticklen=7, tickcolor="black", tickwidth=1.3,
    showgrid=True, gridcolor="#8c8c8c", griddash="6px,21px", gridwidth=1,
    showline=True, linecolor="black", linewidth=1.5, mirror=True, zeroline=False,
)

fig.write_html("out.html")
